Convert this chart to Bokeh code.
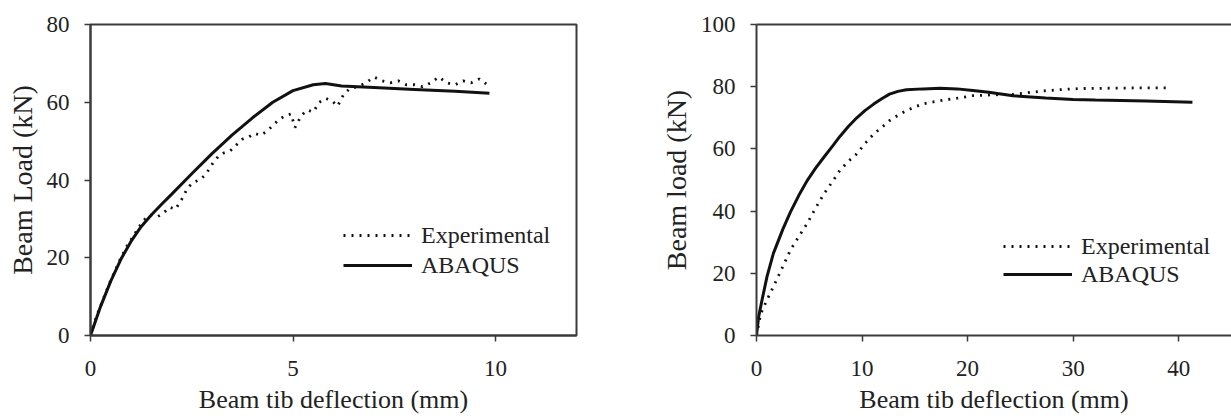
from bokeh.plotting import figure
from bokeh.layouts import row
from bokeh.models import Legend, LegendItem, LinearAxis, Range1d, FixedTicker
from bokeh.embed import file_html
from bokeh.resources import INLINE

# ---------------- data: left chart ----------------
left_abaqus_x = [0, 0.25, 0.5, 0.75, 1.0, 1.25, 1.5, 1.75, 2.0, 2.5, 3.0, 3.5, 4.0, 4.5, 5.0, 5.5, 5.8, 6.2, 7.0, 8.0, 9.0, 9.85]
left_abaqus_y = [0, 7.5, 14, 19.6, 24.2, 28.0, 31.0, 33.7, 36.3, 41.6, 46.8, 51.6, 56, 60, 63, 64.5, 64.8, 64.2, 63.8, 63.3, 62.8, 62.3]

left_exp_x = [0.0, 0.15, 0.3, 0.45, 0.6, 0.75, 0.9, 1.05, 1.2, 1.35, 1.5, 1.65, 1.8, 1.95, 2.1,
              2.25, 2.4, 2.55, 2.7, 2.85, 3.0, 3.15, 3.3, 3.45, 3.6, 3.75, 3.9, 4.05, 4.2, 4.35,
              4.5, 4.65, 4.8, 4.95, 5.05, 5.2, 5.35, 5.5, 5.65, 5.8, 5.95, 6.1, 6.25, 6.4, 6.6,
              6.8, 7.0, 7.2, 7.4, 7.6, 7.8, 8.0, 8.2, 8.4, 8.6, 8.8, 9.0, 9.2, 9.4, 9.6, 9.8]
left_exp_y = [0, 5, 9, 13, 16.5, 20, 23, 25.5, 28, 30, 31, 30.5, 31.5, 33, 32.5,
              35, 38, 39.5, 40, 41.5, 44, 46, 47, 47.5, 49, 50.5, 51, 52, 51.5, 52.5,
              54, 55.5, 56.5, 57, 53.5, 56.5, 58, 57.5, 60, 61, 60.5, 59, 62, 63.5, 64,
              65, 66.5, 65.5, 65, 65.5, 64.5, 64.5, 64, 65, 66.5, 65, 64.5, 65.5, 65, 66, 64.5]

left_xticks = [0, 5, 10]
left_yticks = [0, 20, 40, 60, 80]

# ---------------- data: right chart ----------------
right_abaqus_x = [0, 0.2, 0.5, 1.0, 1.6, 2.5, 3.2, 4.0, 4.8, 5.6, 6.4, 7.2, 7.9, 8.7, 9.5, 10.3, 11.1,
                  11.9, 12.6, 13.4, 14.2, 15.8, 17.4, 19.0, 20.5, 22.0, 24.3, 27.4, 30, 32.1, 36.9, 41.3]
right_abaqus_y = [0, 6, 11, 19, 26.4, 34.2, 39.6, 45.0, 49.8, 53.8, 57.4, 60.9, 64.0, 67.2, 70.0, 72.4, 74.4,
                  76.2, 77.6, 78.5, 79.0, 79.3, 79.5, 79.3, 78.8, 78.2, 77.1, 76.4, 75.9, 75.7, 75.4, 75.0]

right_exp_x = [0, 0.4, 1.0, 1.6, 2.4, 3.2, 4.0, 4.8, 5.6, 6.4, 7.2, 7.9, 8.7, 9.5, 10.3, 11.1, 11.9,
               12.6, 13.4, 14.2, 15.0, 15.8, 17.4, 19.0, 20.5, 22.4, 24.3, 26.0, 27.4, 29.0, 30.6,
               33.0, 36.0, 39.2]
right_exp_y = [0, 7, 11.5, 15.7, 21.5, 27.4, 31.8, 36, 41, 45.6, 49.5, 53.1, 56, 58.4, 61.8, 64.8, 67,
               69.1, 70.8, 72.3, 73.5, 74.5, 75.5, 76.3, 77.1, 77.4, 77.5, 78.2, 78.7, 79.1, 79.4,
               79.5, 79.6, 79.6]

right_xticks = [0, 10, 20, 30, 40]
right_yticks = [0, 20, 40, 60, 80, 100]

x_label = "Beam tib deflection (mm)"
left_y_label = "Beam Load (kN)"
right_y_label = "Beam load (kN)"
series_names = ["Experimental", "ABAQUS"]

FONT = "Liberation Serif"
TEXT = "#222222"
FRAME = "#3a3a3a"
LINE = "#111111"


def style_axis(ax, ticks, label):
    ax.ticker = FixedTicker(ticks=ticks)
    ax.axis_label = label
    ax.axis_label_text_font = FONT
    ax.axis_label_text_font_style = "normal"
    ax.axis_label_text_color = TEXT
    ax.major_label_text_font = FONT
    ax.major_label_text_font_size = "23px"
    ax.major_label_text_color = TEXT
    ax.axis_line_color = FRAME
    ax.axis_line_width = 2
    ax.major_tick_line_color = FRAME
    ax.major_tick_line_width = 1.5
    ax.major_tick_out = 6
    ax.major_tick_in = 0
    ax.minor_tick_line_color = None


def make_plot(width, height, xr, yr, border_left, border_top, border_right, xticks, yticks, ylabel,
              ex, ey, ax_, ay, legend_loc, legend_h, full_outline):
    p = figure(width=width, height=height, output_backend="svg", toolbar_location=None,
               x_range=Range1d(*xr), y_range=Range1d(*yr),
               min_border_left=border_left, min_border_top=border_top,
               min_border_bottom=85, min_border_right=border_right)
    p.grid.visible = False
    p.background_fill_color = "white"
    p.border_fill_color = "white"

    bx = p.below[0]
    ly = p.left[0]
    style_axis(bx, xticks, x_label)
    bx.axis_label_text_font_size = "26px"
    bx.major_label_standoff = 19
    bx.axis_label_standoff = 6
    style_axis(ly, yticks, ylabel)
    ly.axis_label_text_font_size = "28px"
    ly.major_label_standoff = 15
    ly.axis_label_standoff = 6

    if full_outline:
        p.outline_line_color = FRAME
        p.outline_line_width = 2
    else:
        p.outline_line_color = None
        top = LinearAxis(ticker=FixedTicker(ticks=[]))
        top.axis_line_color = FRAME
        top.axis_line_width = 2
        top.major_tick_line_color = None
        top.minor_tick_line_color = None
        top.major_tick_out = 0
        top.major_label_text_font_size = "0px"
        top.major_label_standoff = 0
        p.add_layout(top, "above")

    r_exp = p.line(ex, ey, line_color=LINE, line_width=2.8, line_dash="2 6")
    r_aba = p.line(ax_, ay, line_color=LINE, line_width=3)

    legend = Legend(items=[LegendItem(label=series_names[0], renderers=[r_exp]),
                           LegendItem(label=series_names[1], renderers=[r_aba])],
                    location=legend_loc, orientation="vertical")
    legend.glyph_width = 69
    legend.glyph_height = legend_h
    legend.label_height = legend_h
    legend.label_standoff = 9
    legend.spacing = 0
    legend.padding = 0
    legend.margin = 0
    legend.border_line_color = None
    legend.background_fill_alpha = 0
    legend.label_text_font = FONT
    legend.label_text_font_size = "24px"
    legend.label_text_color = TEXT
    p.add_layout(legend, "center")
    return p


left = make_plot(620, 420, (0, 12), (0, 80), 90, 24, 44, left_xticks, left_yticks, left_y_label,
                 left_exp_x, left_exp_y, left_abaqus_x, left_abaqus_y, (253, 55), 30, True)

right = make_plot(611, 420, (0, 45), (0, 100), 136, 23, 0, right_xticks, right_yticks, right_y_label,
                  right_exp_x, right_exp_y, right_abaqus_x, right_abaqus_y, (247, 47), 28, False)

layout = row(left, right)
open("out.html", "w").write(file_html(layout, INLINE))
